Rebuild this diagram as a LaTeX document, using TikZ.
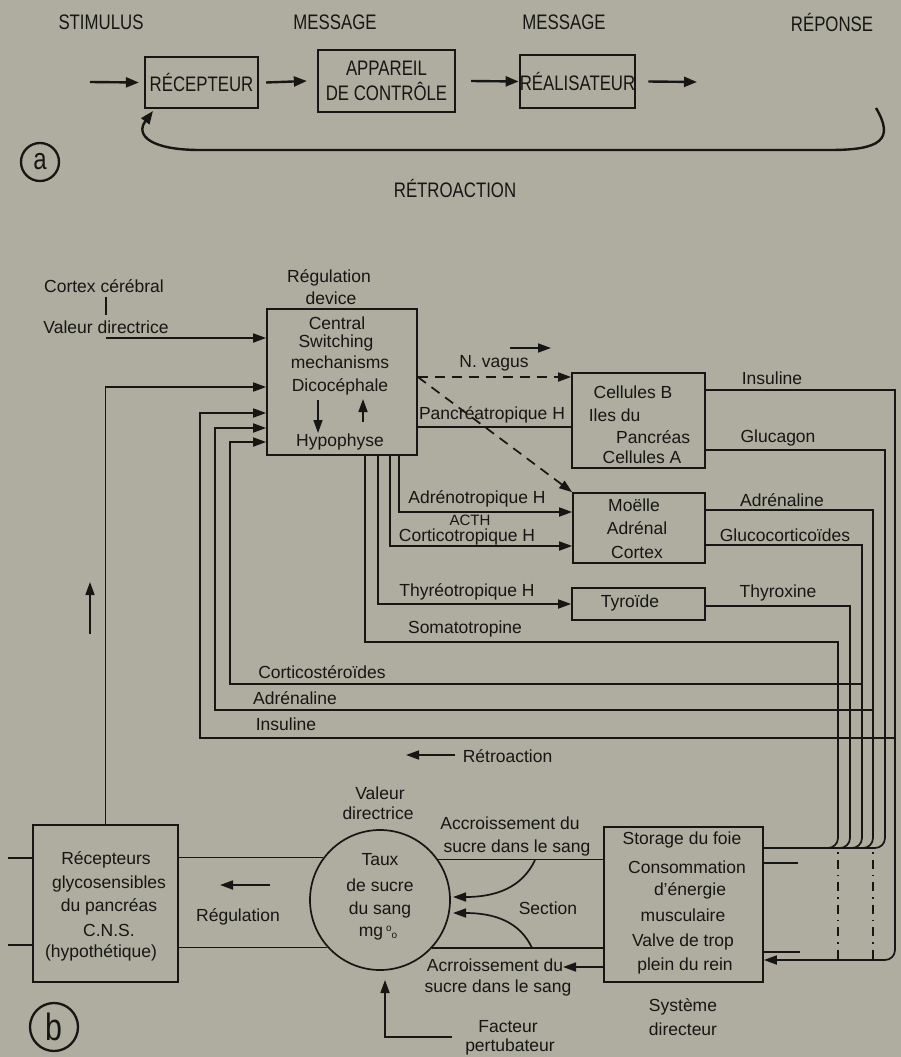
\documentclass[tikz,border=0pt]{standalone}
\usepackage{fontspec}
\setmainfont{Liberation Sans}
\newfontfamily\condfont[FakeStretch=0.8]{Liberation Sans}
\usetikzlibrary{arrows.meta}
\definecolor{paper}{RGB}{174,173,160}
\definecolor{ink}{RGB}{22,22,20}
\begin{document}
\begin{tikzpicture}[x=1pt,y=-1pt, line width=1.7pt, color=ink,
  >={Triangle[length=13pt,width=9pt]},
  lb/.style={inner sep=0pt, font=\fontsize{17.5}{20}\selectfont, text=ink},
  al/.style={inner sep=0pt, font=\condfont\fontsize{21}{24}\selectfont, text=ink},
  bx/.style={draw=ink, line width=1.7pt, inner sep=0pt},
  abx/.style={draw=ink, line width=2.3pt, inner sep=0pt, font=\condfont\fontsize{21}{25}\selectfont, align=center, text=ink},
  aarr/.style={->, line width=2.4pt, >={Triangle[length=13pt,width=10pt]}},
  dashdot/.style={line width=1.5pt, dash pattern=on 1.5pt off 6pt on 9pt off 6pt},
  bus/.style={rounded corners=10pt}
]
\fill[paper] (0,0) rectangle (901,1057);
\useasboundingbox (0,0) rectangle (901,1057);

% ---------------- part a ----------------
\node[al] (stim) at (101,22) {STIMULUS};
\node[al] (msg1) at (335,22) {MESSAGE};
\node[al] (msg2) at (564,22) {MESSAGE};
\node[al] (rep) at (832,22) {RÉPONSE};
\node[abx, minimum width=113, minimum height=51] (recep) at (201.5,82.5) {RÉCEPTEUR};
\node[abx, minimum width=137, minimum height=62] (app) at (386.5,81) {APPAREIL\\DE CONTRÔLE};
\node[abx, minimum width=115, minimum height=53] (real) at (577.5,81.5) {RÉALISATEUR};
\coordinate (sin) at (90,82);
\coordinate (sout) at (697,82);
\draw[aarr] (sin) -- ([xshift=-5pt]recep.west);
\draw[aarr] ([xshift=7pt]recep.east) -- ([xshift=-10pt]app.west);
\draw[aarr] ([xshift=15pt]app.east) -- (real.west);
\draw[aarr] ([xshift=12pt]real.east) -- (sout);
\coordinate (fbs) at (876,108);
\coordinate (fbe) at (153,111);
\draw[aarr] (fbs) .. controls (895,140) and (880,150) .. (830,150) -- (200,150) .. controls (150,150) and (135,135) .. (fbe);
\node[circle, draw=ink, line width=2.3pt, minimum size=38, inner sep=0pt, font=\condfont\fontsize{30}{30}\selectfont, text=ink] (la) at (40,162) {a};
\node[al] (retro) at (455,188) {RÉTROACTION};

% ---------------- part b ----------------
\node[lb] (cortex) at (104,286) {Cortex cérébral};
\node[lb] (valdir) at (106,327) {Valeur directrice};
\coordinate (ctk1) at (106,297);
\coordinate (ctk2) at (106,315);
\draw (ctk1) -- (ctk2);
\node[lb] (regt1) at (329,278) {Régulation};
\node[lb] (regt2) at (331,298) {device};

\node[bx, minimum width=150, minimum height=146] (reg) at (342,382) {};
\node[lb] (c1) at (337,323) {Central};
\node[lb] (c2) at (336,343) {Switching};
\node[lb] (c3) at (340,362) {mechanisms};
\node[lb] (c4) at (340,387) {Dicocéphale};
\node[lb] (c5) at (340,442) {Hypophyse};
\coordinate (dn1) at (318,400); \coordinate (dn2) at (318,433);
\coordinate (up1) at (363,422); \coordinate (up2) at (363,399);
\draw[->] (dn1) -- (dn2);
\draw[->] (up1) -- (up2);

\coordinate (vd) at (106,338);
\draw[->] (vd) -- (vd -| reg.west);

\node[bx, minimum width=133, minimum height=95] (cel) at (638.5,420.5) {};
\node[lb] (cel1) at (633,392) {Cellules B};
\node[lb, anchor=west] (cel2) at (588,415) {Iles du};
\node[lb, anchor=east] (cel3) at (691,437) {Pancréas};
\node[lb] (cel4) at (642,457) {Cellules A};

\node[bx, minimum width=132, minimum height=70] (moe) at (639,528) {};
\node[lb] (moe1) at (634,505) {Moëlle};
\node[lb] (moe2) at (637,528) {Adrénal};
\node[lb] (moe3) at (637,552) {Cortex};

\node[bx, minimum width=133, minimum height=32] (tyr) at (638.5,604) {};
\node[lb] (tyr1) at (630,603) {Tyroïde};

% hormones from hypophyse
\coordinate (nv) at (reg.east |- 0,377);
\draw[->, dash pattern=on 10pt off 7pt] (nv) -- (cel.west |- nv);
\draw[->, dash pattern=on 10pt off 7pt] (nv) -- (moe.north west);
\node[lb] (nvl) at (494,363) {N. vagus};
\coordinate (ca1) at (510,348); \coordinate (ca2) at (551,348);
\draw[->] (ca1) -- (ca2);

\coordinate (pt) at (reg.east |- 0,427);
\draw (pt) -- (cel.west |- pt);
\node[lb] (ptl) at (492,415) {Pancréatropique H};

\draw[->] (reg.south -| 399,0) |- (moe.west |- 0,512);
\node[lb] (adl) at (477,499) {Adrénotropique H};
\draw[->] (reg.south -| 390,0) |- (moe.west |- 0,546);
\node[lb, font=\fontsize{15}{16}\selectfont] (acth) at (470,520) {ACTH};
\node[lb] (cortl) at (467,537) {Corticotropique H};
\draw[->] (reg.south -| 378,0) |- (tyr.west);
\node[lb] (thyl) at (467,592) {Thyréotropique H};
\node[lb] (soml) at (465,629) {Somatotropine};

% outputs to bus
\node[lb] (o1) at (772,378) {Insuline};
\node[lb] (o2) at (778,438) {Glucagon};
\node[lb] (o3) at (782,500) {Adrénaline};
\node[lb] (o4) at (785,535) {Glucocorticoïdes};
\node[lb] (o5) at (778,593) {Thyroxine};

\node[bx, minimum width=159, minimum height=155] (sto) at (683.5,904.5) {};
\node[lb] (s1) at (682,840) {Storage du foie};
\node[lb] (s2) at (687,867) {Consommation};
\node[lb] (s3) at (690,891) {d'énergie};
\node[lb] (s4) at (683,915) {musculaire};
\node[lb] (s5) at (683,942) {Valve de trop};
\node[lb] (s6) at (685,966) {plein du rein};
\node[lb] (s7) at (683,1007) {Système};
\node[lb] (s8) at (683,1029) {directeur};

\coordinate (bmerge) at (sto.east |- 0,848);
% Insuline
\draw (cel.east |- 0,390) -- (895,390) -- (895,700);
\draw[bus,->] (895,690) -- (895,960) -- (sto.east |- 0,960);
% Glucagon
\draw (cel.east |- 0,450) -- (885,450) -- (885,700);
\draw[bus] (885,690) -- (885,848) -- (bmerge);
% Adrenaline
\draw (moe.east |- 0,510) -- (873,510) -- (873,700);
\draw[bus] (873,690) -- (873,848) -- (bmerge);
% Glucocorticoides
\draw (moe.east |- 0,545) -- (862,545) -- (862,700);
\draw[bus] (862,690) -- (862,848) -- (bmerge);
% Thyroxine
\draw (tyr.east |- 0,606) -- (850,606) -- (850,700);
\draw[bus] (850,690) -- (850,848) -- (bmerge);
% Somatotropine
\draw (reg.south -| 365,0) |- (838,642) -- (838,700);
\draw[bus] (838,690) -- (838,848) -- (bmerge);

% returns to hypophyse
\coordinate (ri) at (895,738);
\coordinate (ra) at (873,710);
\coordinate (rc) at (862,684);
\draw[->] (ri) -| (200,413) -- (reg.west |- 0,413);
\draw[->] (ra) -| (215,428) -- (reg.west |- 0,428);
\draw[->] (rc) -| (230,442) -- (reg.west |- 0,442);
\node[lb] (rl1) at (322,672) {Corticostéroïdes};
\node[lb] (rl2) at (295,698) {Adrénaline};
\node[lb] (rl3) at (286,724) {Insuline};

\coordinate (rt1) at (455,755); \coordinate (rt2) at (406,755);
\draw[->] (rt1) -- (rt2);
\node[lb, anchor=west] (rtl) at (462,756) {Rétroaction};

\coordinate (ua1) at (90,634); \coordinate (ua2) at (90,582);
\draw[->] (ua1) -- (ua2);

% stubs and dash-dot
\coordinate (st1) at (798,863);
\coordinate (st2) at (800,952);
\draw (sto.east |- st1) -- (st1);
\draw (sto.east |- st2) -- (st2);
\coordinate (dd1) at (838,852); \coordinate (dd2) at (838,962);
\coordinate (dd3) at (873,852); \coordinate (dd4) at (873,962);
\draw[dashdot] (dd1) -- (dd2);
\draw[dashdot] (dd3) -- (dd4);

% bottom loop
\node[bx, minimum width=145, minimum height=157] (rcp) at (105.5,903.5) {};
\node[lb] (r1) at (106,860) {Récepteurs};
\node[lb] (r2) at (109,884) {glycosensibles};
\node[lb] (r3) at (109,907) {du pancréas};
\node[lb] (r4) at (109,930) {C.N.S.};
\node[lb] (r5) at (101,953) {(hypothétique)};

\draw[->] (rcp.north) |- (reg.west |- 0,387);

\node[circle, draw=ink, line width=1.7pt, minimum size=140, inner sep=0pt] (sug) at (380,900) {};
\node[lb] (t1) at (380,860) {Taux};
\node[lb] (t2) at (380,885) {de sucre};
\node[lb] (t3) at (380,910) {du sang};
\node[lb] (t4) at (378,933) {mg\,\raisebox{5pt}{\fontsize{10}{10}\selectfont o}\raisebox{-2pt}{\fontsize{10}{10}\selectfont o}};
\node[lb] (vd1) at (380,793) {Valeur};
\node[lb] (vd2) at (378,813) {directrice};

\coordinate (lst1) at (8,858); \coordinate (lst2) at (8,945);
\draw (lst1) -- (rcp.west |- lst1);
\draw (lst2) -- (rcp.west |- lst2);
\draw (rcp.east |- sug.143) -- (sug.143);
\draw (rcp.east |- sug.222) -- (sug.222);
\coordinate (rg1) at (270,885); \coordinate (rg2) at (220,885);
\draw[->] (rg1) -- (rg2);
\node[lb] (rgl) at (238,917) {Régulation};

\draw (sug.35) -- (sto.west |- sug.35);
\draw (sug.317) -- (sto.west |- sug.317);
\node[lb] (ac1) at (510,823) {Accroissement du};
\node[lb] (ac2) at (517,848) {sucre dans le sang};
\node[lb] (ac3) at (495,965) {Acrroissement du};
\node[lb] (ac4) at (498,988) {sucre dans le sang};
\node[lb] (sec) at (548,908) {Section};
\coordinate (cv1) at (535,860); \coordinate (cv2) at (453,897);
\coordinate (cv3) at (532,948); \coordinate (cv4) at (453,913);
\draw[->] (cv1) .. controls (522,888) and (495,897) .. (cv2);
\draw[->] (cv3) .. controls (520,922) and (495,913) .. (cv4);
\coordinate (ar2) at (563,967);
\draw[->] (sto.west |- ar2) -- (ar2);

\coordinate (fp1) at (452,1037); \coordinate (fp2) at (385,980);
\draw[->] (fp1) -| (fp2);
\node[lb] (fpl1) at (508,1027) {Facteur};
\node[lb] (fpl2) at (510,1047) {pertubateur};

\node[circle, draw=ink, line width=2.3pt, minimum size=48, inner sep=0pt, font=\condfont\fontsize{38}{38}\selectfont, text=ink] (lb) at (54,1027) {b};
\end{tikzpicture}
\end{document}
